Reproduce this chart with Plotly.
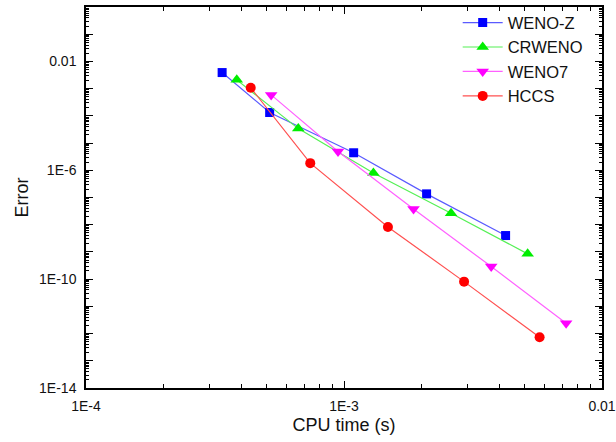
import plotly.graph_objects as go

# CPU time (s) and error for each scheme
weno_z_time = [3.37e-4, 5.15e-4, 1.09e-3, 2.09e-3, 4.23e-3]
weno_z_err = [3.9e-3, 1.33e-4, 4.4e-6, 1.36e-7, 4.0e-9]

crweno_time = [3.84e-4, 6.65e-4, 1.30e-3, 2.60e-3, 5.15e-3]
crweno_err = [2.1e-3, 3.4e-5, 7.9e-7, 2.65e-8, 8.5e-10]

weno7_time = [5.22e-4, 9.48e-4, 1.86e-3, 3.72e-3, 7.26e-3]
weno7_err = [5.9e-4, 4.9e-6, 3.8e-8, 2.9e-10, 2.4e-12]

hccs_time = [4.35e-4, 7.40e-4, 1.48e-3, 2.92e-3, 5.73e-3]
hccs_err = [1.08e-3, 1.83e-6, 8.3e-9, 8.1e-11, 7.3e-13]

x_tickvals = [1e-4, 1e-3, 1e-2]
x_ticktext = ["1E-4", "1E-3", "0.01"]
y_labels = {-2: "0.01", -6: "1E-6", -10: "1E-10", -14: "1E-14"}

FONT = "Liberation Sans, Arial, sans-serif"

series = [
    ("WENO-Z", weno_z_time, weno_z_err, "#0000ff", "#5a5aff", "square", 9),
    ("CRWENO", crweno_time, crweno_err, "#00ee00", "#55f055", "triangle-up", 11),
    ("WENO7", weno7_time, weno7_err, "#ff00ff", "#ff60ff", "triangle-down", 11),
    ("HCCS", hccs_time, hccs_err, "#ff0000", "#ff5050", "circle", 10),
]

fig = go.Figure()
for name, xs, ys, mcol, lcol, sym, size in series:
    fig.add_trace(go.Scatter(
        x=xs, y=ys, name=name, mode="lines+markers",
        line=dict(color=lcol, width=1.2),
        marker=dict(symbol=sym, size=size, color=mcol, line=dict(width=0)),
    ))

# empty trace so the overlay axes (minor ticks) get drawn
fig.add_trace(go.Scatter(x=[], y=[], xaxis="x2", yaxis="y2",
                         showlegend=False, hoverinfo="skip"))


def minor_vals(lo, hi):
    """Values 2..9 x 10^e for every decade in [lo, hi)."""
    out = []
    for e in range(lo, hi):
        for m in range(2, 10):
            out.append(m * 10.0 ** e)
    return out


y_major = [10.0 ** e for e in range(-14, 1)]
y_text = [y_labels.get(e, "") for e in range(-14, 1)]

X_RANGE = [-4, -2]
Y_RANGE = [-14, 0]

frame = dict(
    type="log", showgrid=False, zeroline=False,
    showline=True, linecolor="black", linewidth=1.5, mirror="ticks",
    ticks="inside", ticklen=7, tickwidth=1.2, tickcolor="black",
    tickfont=dict(family=FONT, size=14, color="#111"),
    ticklabeloverflow="allow",
)

minor_axis = dict(
    type="log", showgrid=False, zeroline=False, showline=False,
    mirror="ticks", ticks="inside", tickwidth=1, tickcolor="black",
    showticklabels=False, tickmode="array",
)

fig.update_layout(
    width=616, height=442,
    margin=dict(l=86, r=14, t=7, b=54, autoexpand=False),
    plot_bgcolor="white", paper_bgcolor="white",
    font=dict(family=FONT, color="#111"),
    xaxis=dict(
        **frame, range=X_RANGE,
        tickmode="array", tickvals=x_tickvals, ticktext=x_ticktext,
        ticklabelstandoff=4,
        title=dict(text="CPU time (s)",
                   font=dict(family=FONT, size=18, color="#111"), standoff=6),
    ),
    yaxis=dict(
        **frame, range=Y_RANGE,
        tickmode="array", tickvals=y_major, ticktext=y_text,
        ticklabelstandoff=5,
        title=dict(text="Error",
                   font=dict(family=FONT, size=18, color="#111"), standoff=6),
    ),
    xaxis2=dict(**minor_axis, overlaying="x", anchor="y2", side="bottom",
                range=X_RANGE, tickvals=minor_vals(-4, -2), ticklen=4),
    yaxis2=dict(**minor_axis, overlaying="y", anchor="x2", side="left",
                range=Y_RANGE, tickvals=minor_vals(-14, 0), ticklen=3),
    legend=dict(
        xref="container", yref="container",
        x=0.743, y=0.988, xanchor="left", yanchor="top",
        bgcolor="rgba(0,0,0,0)", borderwidth=0,
        font=dict(family=FONT, size=16.5, color="#111"),
        itemwidth=40, tracegroupgap=0,
    ),
)

fig.write_html("out.html")
